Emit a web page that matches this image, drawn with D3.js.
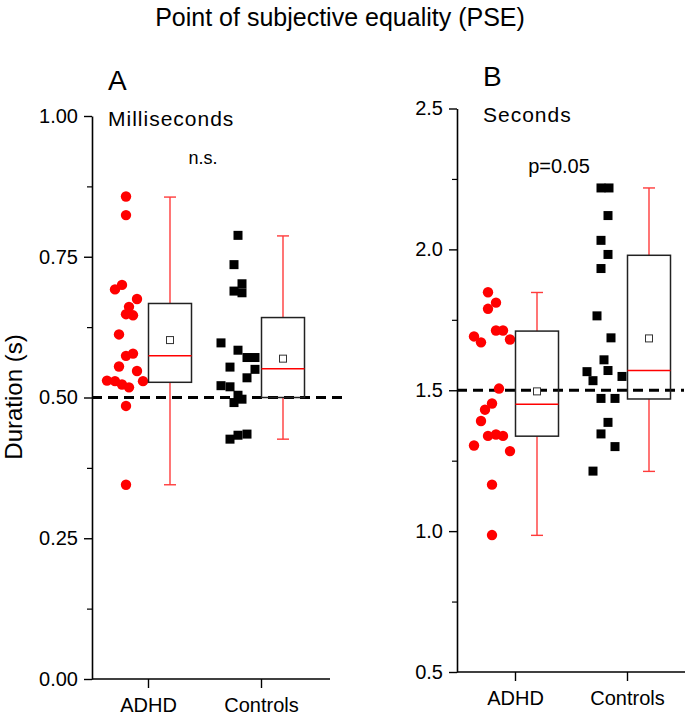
<!DOCTYPE html>
<html><head><meta charset="utf-8">
<script src="https://cdn.jsdelivr.net/npm/d3@7"></script>
<style>
body{margin:0;background:#fff}
text{font-family:"Liberation Sans",Arial,Helvetica,sans-serif;fill:#000}
</style>
</head><body>
<svg id="chart" width="685" height="718"></svg>
<script>
// ---------- DATA ----------
const groups = ["ADHD", "Controls"];

// Panel A: Milliseconds (PSE in s)
const msADHD = [0.857,0.824,0.700,0.692,0.675,0.661,0.648,0.646,0.612,0.578,0.574,0.555,0.547,0.530,0.529,0.523,0.518,0.529,0.485,0.345];
const msADHDJitter = [1,1,-3,-10,12,4,1,8,-6,8,1,-6,12,-18,-10,-3,4,18,1,1];
const msControls = [0.788,0.736,0.702,0.689,0.686,0.597,0.584,0.571,0.571,0.554,0.550,0.535,0.521,0.519,0.504,0.497,0.491,0.435,0.433,0.426];
const msControlsJitter = [0,-4,4,-4,4,-17,0,9,17,-8,17,9,-17,-8,0,4,-4,9,0,-8];
// box stats: [min, q1, median, q3, max, mean]
const msBoxADHD = [0.345,0.527,0.574,0.667,0.856,0.602];
const msBoxControls = [0.426,0.500,0.551,0.642,0.787,0.569];
const msTicks = [0, 0.25, 0.5, 0.75, 1.0];
const msMinorTicks = [0.125, 0.375, 0.625, 0.875];
const msReference = 0.5;

// Panel B: Seconds (PSE in s)
const sADHD = [1.848,1.811,1.789,1.712,1.712,1.691,1.670,1.680,1.506,1.453,1.431,1.391,1.338,1.343,1.338,1.304,1.284,1.165,0.986];
const sADHDJitter = [-4,4,-4,4,11,-18,-11,18,7,0,-7,-11,-4,4,11,-18,18,0,0];
const sControls = [2.218,2.218,2.120,2.032,1.982,1.932,1.764,1.686,1.608,1.566,1.570,1.534,1.549,1.471,1.471,1.386,1.345,1.300,1.213];
const sControlsJitter = [-3,5,4,-3,4,-3,-7,7,0,-17,4,-11,18,-3,11,4,-3,11,-11];
const sBoxADHD = [0.985,1.337,1.450,1.710,1.847,1.496];
const sBoxControls = [1.212,1.469,1.570,1.979,2.218,1.684];
const sTicks = [0.5, 1.0, 1.5, 2.0, 2.5];
const sMinorTicks = [0.75, 1.25, 1.75, 2.25];
const sReference = 1.5;

// ---------- DRAWING ----------
const svg = d3.select("#chart");
const RED = "#ff0000";
const WRED = "#ff3b3b";

svg.append("text").attr("x", 340).attr("y", 26).attr("text-anchor", "middle")
  .style("font-size", "25px").text("Point of subjective equality (PSE)");

svg.append("text").attr("transform", "translate(22,397) rotate(-90)")
  .attr("text-anchor", "middle").style("font-size", "24px").text("Duration (s)");

function panel(cfg) {
  const g = svg.append("g");
  const y = d3.scaleLinear().domain(cfg.domain).range([cfg.bottom, cfg.top]);
  const x = d3.scalePoint().domain(groups).range(cfg.xr);
  const jit = d3.scaleLinear().domain([-1, 1]).range([-1, 1]);
  const ptOff = -23, boxOff = 22, boxW = 43, capW = 12;

  // y axis major
  const ya = g.append("g").attr("transform", `translate(${cfg.left},0)`)
    .call(d3.axisLeft(y).tickValues(cfg.ticks).tickFormat(d3.format(cfg.fmt))
      .tickSize(8).tickPadding(6).tickSizeOuter(0));
  ya.select(".domain").attr("stroke-width", 1.6);
  ya.selectAll(".tick line").attr("stroke-width", 1.4);
  ya.selectAll(".tick text").style("font-size", "20px").style("font-family", '"Liberation Sans",Arial,sans-serif');
  // minor
  const ym = g.append("g").attr("transform", `translate(${cfg.left},0)`)
    .call(d3.axisLeft(y).tickValues(cfg.minor).tickFormat("").tickSize(5));
  ym.select(".domain").remove();
  ym.selectAll(".tick line").attr("stroke-width", 1.2);

  // x axis
  g.append("line").attr("x1", cfg.left).attr("x2", cfg.right)
    .attr("y1", cfg.bottom).attr("y2", cfg.bottom).attr("stroke", "#000").attr("stroke-width", 1.6);
  const xa = g.append("g").attr("transform", `translate(0,${cfg.bottom})`)
    .call(d3.axisBottom(x).tickSize(9).tickPadding(10));
  xa.select(".domain").remove();
  xa.selectAll(".tick line").attr("stroke-width", 1.4);
  xa.selectAll(".tick text").style("font-size", "20px").style("font-family", '"Liberation Sans",Arial,sans-serif');

  // reference dashed line
  g.append("line").attr("x1", cfg.left).attr("x2", cfg.dashEnd)
    .attr("y1", y(cfg.ref)).attr("y2", y(cfg.ref))
    .attr("stroke", "#000").attr("stroke-width", 3).attr("stroke-dasharray", "10,6");

  // ADHD points (circles)
  g.selectAll(".c").data(cfg.adhd).enter().append("circle")
    .attr("cx", (d, i) => x("ADHD") + ptOff + jit(cfg.adhdJ[i]))
    .attr("cy", d => y(d)).attr("r", 5.2).attr("fill", RED);
  // Control points (squares)
  const sq = 9;
  g.selectAll(".s").data(cfg.ctrl).enter().append("rect")
    .attr("x", (d, i) => x("Controls") + ptOff + jit(cfg.ctrlJ[i]) - sq / 2)
    .attr("y", d => y(d) - sq / 2).attr("width", sq).attr("height", sq).attr("fill", "#000");

  // boxes
  [["ADHD", cfg.boxA], ["Controls", cfg.boxC]].forEach(([k, b]) => {
    const cx = x(k) + boxOff;
    const [mn, q1, md, q3, mx, mean] = b;
    g.append("line").attr("x1", cx).attr("x2", cx).attr("y1", y(q3)).attr("y2", y(mx)).attr("stroke", WRED).attr("stroke-width", 1.4);
    g.append("line").attr("x1", cx).attr("x2", cx).attr("y1", y(q1)).attr("y2", y(mn)).attr("stroke", WRED).attr("stroke-width", 1.4);
    g.append("line").attr("x1", cx - capW / 2).attr("x2", cx + capW / 2).attr("y1", y(mx)).attr("y2", y(mx)).attr("stroke", WRED).attr("stroke-width", 1.4);
    g.append("line").attr("x1", cx - capW / 2).attr("x2", cx + capW / 2).attr("y1", y(mn)).attr("y2", y(mn)).attr("stroke", WRED).attr("stroke-width", 1.4);
    g.append("rect").attr("x", cx - boxW / 2).attr("y", y(q3)).attr("width", boxW)
      .attr("height", y(q1) - y(q3)).attr("fill", "none").attr("stroke", "#222").attr("stroke-width", 1.5);
    g.append("line").attr("x1", cx - boxW / 2).attr("x2", cx + boxW / 2).attr("y1", y(md)).attr("y2", y(md))
      .attr("stroke", RED).attr("stroke-width", 1.5);
    g.append("rect").attr("x", cx - 3.5).attr("y", y(mean) - 3.5).attr("width", 7).attr("height", 7)
      .attr("fill", "#fff").attr("stroke", "#333").attr("stroke-width", 1);
  });

  // labels
  g.append("text").attr("x", cfg.labelX).attr("y", cfg.letterY).style("font-size", "28px").text(cfg.letter);
  g.append("text").attr("x", cfg.labelX).attr("y", cfg.unitY).style("font-size", "21px")
    .style("letter-spacing", "1px").text(cfg.unit);
  g.append("text").attr("x", cfg.sigX).attr("y", cfg.sigY).attr("text-anchor", "middle")
    .style("font-size", cfg.sigSize).text(cfg.sig);
}

panel({
  domain: [0, 1], bottom: 679, top: 116, left: 92, right: 330, dashEnd: 345, xr: [148, 261],
  ticks: msTicks, minor: msMinorTicks, fmt: ".2f", ref: msReference,
  adhd: msADHD, adhdJ: msADHDJitter, ctrl: msControls, ctrlJ: msControlsJitter,
  boxA: msBoxADHD, boxC: msBoxControls,
  letter: "A", unit: "Milliseconds", labelX: 108, letterY: 90, unitY: 126,
  sig: "n.s.", sigX: 203, sigY: 164, sigSize: "18px"
});

panel({
  domain: [0.5, 2.5], bottom: 672, top: 108.5, left: 457, right: 685, dashEnd: 684, xr: [515, 627],
  ticks: sTicks, minor: sMinorTicks, fmt: ".1f", ref: sReference,
  adhd: sADHD, adhdJ: sADHDJitter, ctrl: sControls, ctrlJ: sControlsJitter,
  boxA: sBoxADHD, boxC: sBoxControls,
  letter: "B", unit: "Seconds", labelX: 483, letterY: 86, unitY: 122,
  sig: "p=0.05", sigX: 559, sigY: 173, sigSize: "20px"
});
</script>
</body></html>
